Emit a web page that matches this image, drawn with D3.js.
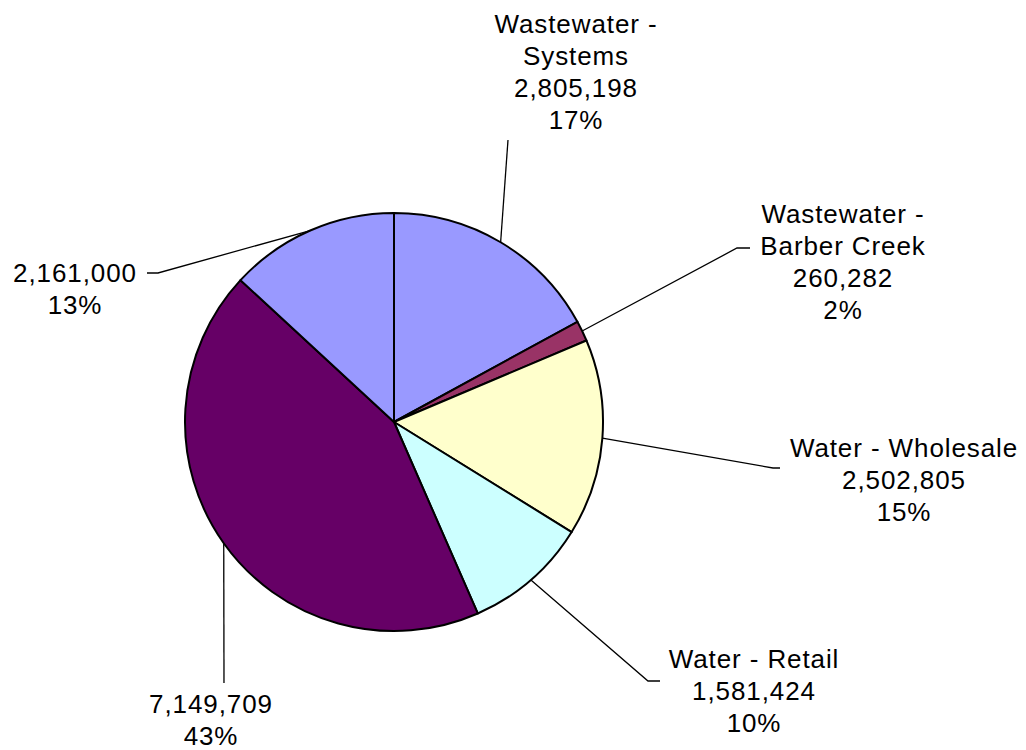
<!DOCTYPE html>
<html>
<head>
<meta charset="utf-8">
<script src="https://cdn.jsdelivr.net/npm/d3@7"></script>
<style>
  html, body { margin: 0; padding: 0; background: #ffffff; }
  svg { display: block; }
  text { font-family: Arial, "Liberation Sans", sans-serif; font-size: 26px; letter-spacing: 0.9px; fill: #000; }
</style>
</head>
<body>
<svg id="chart" width="1026" height="750"></svg>
<script>
// Slice data, clockwise from 12 o'clock
const categories = [
  "Wastewater - Systems",
  "Wastewater - Barber Creek",
  "Water - Wholesale",
  "Water - Retail",
  "",
  ""
];
const values = [2805198, 260282, 2502805, 1581424, 7149709, 2161000];
const colors = ["#9999FF", "#993366", "#FFFFCC", "#CCFFFF", "#660066", "#9999FF"];

// Category-name lines shown above each value (split as wrapped in the labels)
const nameLines = [
  ["Wastewater -", "Systems"],
  ["Wastewater -", "Barber Creek"],
  ["Water - Wholesale"],
  ["Water - Retail"],
  [],
  []
];

// Label placement: text centre, first baseline, and leader-line bend points
const labelLayout = [
  { cx: 576, y: 33,  path: [[508, 140]] },
  { cx: 843, y: 223, path: [[737, 248], [750, 248]] },
  { cx: 904, y: 457, path: [[773, 468], [780, 468]] },
  { cx: 754, y: 668, path: [[648, 681], [660, 681]] },
  { cx: 211, y: 713, path: [[224, 683]] },
  { cx: 75,  y: 282, path: [[158, 273], [147, 273]] }
];

const width = 1026, height = 750;
const cx = 394, cy = 422, radius = 209;
const lineGap = 32;

const svg = d3.select("#chart");
const total = d3.sum(values);
const fmtNum = d3.format(",");
const fmtPct = d3.format(".0%");

const pie = d3.pie().sort(null).value(d => d)(values);
const arc = d3.arc().innerRadius(0).outerRadius(radius);

const g = svg.append("g").attr("transform", `translate(${cx},${cy})`);

g.selectAll("path.slice")
  .data(pie)
  .join("path")
  .attr("class", "slice")
  .attr("d", arc)
  .attr("fill", (d, i) => colors[i])
  .attr("stroke", "#000")
  .attr("stroke-width", 2)
  .attr("stroke-linejoin", "round");

// Leader lines from the slice's mid-angle on the rim
const line = d3.line();
pie.forEach((d, i) => {
  const mid = (d.startAngle + d.endAngle) / 2;
  const start = [cx + radius * Math.sin(mid), cy - radius * Math.cos(mid)];
  const pts = [start].concat(labelLayout[i].path);
  svg.append("path")
    .attr("d", line(pts))
    .attr("fill", "none")
    .attr("stroke", "#000")
    .attr("stroke-width", 1.3);
});

// Data labels: name, value, percent
pie.forEach((d, i) => {
  const lines = nameLines[i].concat([fmtNum(values[i]), fmtPct(values[i] / total)]);
  const t = svg.append("text")
    .attr("text-anchor", "middle")
    .attr("x", labelLayout[i].cx)
    .attr("y", labelLayout[i].y);
  lines.forEach((s, k) => {
    t.append("tspan")
      .attr("x", labelLayout[i].cx)
      .attr("y", labelLayout[i].y + k * lineGap)
      .text(s);
  });
});
</script>
</body>
</html>
